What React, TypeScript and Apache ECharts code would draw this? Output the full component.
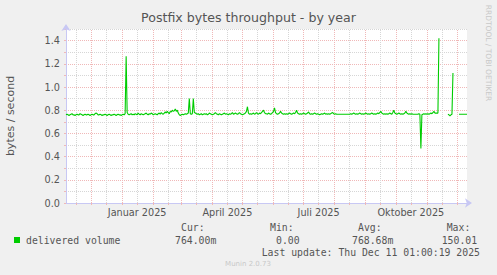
import React, { useEffect, useRef } from "react";
import * as echarts from "echarts";

// ---- data ----
const lastUpdate = Date.UTC(2025, 11, 11, 1, 0, 19);
const DAY = 86400000;
const spanDays = 400;

// daily average of delivered volume (bytes/second), one value per day from the start
const dailyValues: (number | null)[] = [
  0.760, 0.765, 0.760, 0.755, 0.760, 0.765, 0.770, 0.760, 0.760, 0.755, 0.760, 0.765, 0.760, 0.760, 0.770, 0.765, 0.760, 0.755, 0.760, 0.765,
  0.760, 0.760, 0.765, 0.760, 0.755, 0.760, 0.765, 0.760, 0.760, 0.770, 0.775, 0.770, 0.760, 0.760, 0.765, 0.760, 0.755, 0.760, 0.760, 0.765,
  0.760, 0.755, 0.760, 0.765, 0.760, 0.755, 0.760, 0.760, 0.765, 0.760, 0.755, 0.760, 0.765, 0.760, 0.760, 0.755, 0.760, 0.765, 0.760, 0.770,
  1.265, 0.780, 0.765, 0.760, 0.765, 0.770, 0.760, 0.765, 0.760, 0.770, 0.765, 0.760, 0.775, 0.765, 0.760, 0.770, 0.765, 0.760, 0.765, 0.770,
  0.775, 0.765, 0.760, 0.770, 0.765, 0.775, 0.770, 0.760, 0.765, 0.770, 0.765, 0.760, 0.770, 0.775, 0.765, 0.780, 0.770, 0.765, 0.775, 0.785,
  0.775, 0.790, 0.780, 0.770, 0.790, 0.785, 0.800, 0.790, 0.795, 0.810, 0.790, 0.800, 0.775, 0.760, 0.755, 0.760, 0.765, 0.760, 0.765, 0.770,
  0.765, 0.770, 0.775, 0.900, 0.770, 0.765, 0.770, 0.900, 0.780, 0.775, 0.770, 0.765, 0.770, 0.760, 0.765, 0.770, 0.760, 0.765, 0.770, 0.765,
  0.770, 0.760, 0.765, 0.775, 0.770, 0.765, 0.760, 0.765, 0.770, 0.780, 0.770, 0.765, 0.760, 0.770, 0.765, 0.760, 0.765, 0.770, 0.775, 0.765,
  0.770, 0.765, 0.760, 0.770, 0.765, 0.770, 0.780, 0.765, 0.770, 0.775, 0.770, 0.765, 0.770, 0.780, 0.770, 0.765, 0.760, 0.765, 0.770, 0.775,
  0.790, 0.830, 0.775, 0.765, 0.770, 0.765, 0.770, 0.775, 0.765, 0.770, 0.780, 0.770, 0.765, 0.775, 0.770, 0.780, 0.790, 0.800, 0.780, 0.770,
  0.770, 0.765, 0.775, 0.770, 0.765, 0.770, 0.780, 0.790, 0.820, 0.780, 0.770, 0.765, 0.770, 0.775, 0.790, 0.775, 0.770, 0.765, 0.770, 0.765,
  0.770, 0.765, 0.770, 0.775, 0.770, 0.765, 0.770, 0.775, 0.770, 0.780, 0.800, 0.775, 0.770, 0.765, 0.770, 0.765, 0.770, 0.775, 0.770, 0.765,
  0.770, 0.775, 0.785, 0.770, 0.765, 0.770, 0.765, 0.770, 0.775, 0.770, 0.765, 0.770, 0.765, 0.760, 0.765, 0.770, 0.765, 0.770, 0.775, 0.765,
  0.770, 0.765, 0.770, 0.765, 0.770, 0.775, 0.780, 0.770, 0.765, 0.770, 0.765, 0.765, 0.765, 0.765, 0.765, 0.765, 0.765, 0.765, 0.765, 0.765,
  0.765, 0.765, 0.765, 0.765, 0.770, 0.765, 0.770, 0.775, 0.770, 0.765, 0.770, 0.765, 0.770, 0.775, 0.770, 0.765, 0.770, 0.765, 0.770, 0.775,
  0.770, 0.765, 0.770, 0.765, 0.770, 0.775, 0.770, 0.765, 0.770, 0.765, 0.770, 0.775, 0.770, 0.780, 0.790, 0.775, 0.770, 0.765, 0.770, 0.765,
  0.770, 0.765, 0.770, 0.775, 0.770, 0.765, 0.780, 0.800, 0.775, 0.770, 0.765, 0.770, 0.775, 0.770, 0.765, 0.770, 0.765, 0.770, 0.775, 0.790,
  0.775, 0.770, 0.765, 0.770, 0.765, 0.770, 0.765, 0.765, 0.765, 0.765, 0.765, 0.765, 0.770, 0.765, 0.470, 0.760, 0.765, 0.770, 0.765, 0.770,
  0.765, 0.770, 0.765, 0.770, 0.775, 0.770, 0.780, 0.790, 0.775, 0.775, 0.775, 0.775, 1.420, null, null, null, null, null, null, null,
  null, 0.765, 0.760, 0.750, 0.760, 0.765, 1.120, null, null, null, null, null, 0.765, 0.765, 0.765, 0.765, 0.765, 0.765, 0.765, 0.765,
  0.765,
];

const majorGridDates = [
  "2024-12-01", "2025-01-01", "2025-02-01", "2025-03-01", "2025-04-01", "2025-05-01", "2025-06-01",
  "2025-07-01", "2025-08-01", "2025-09-01", "2025-10-01", "2025-11-01", "2025-12-01",
];
const minorGridDates = [
  "2024-11-16", "2024-12-16", "2025-01-16", "2025-02-16", "2025-03-16", "2025-04-16", "2025-05-16",
  "2025-06-16", "2025-07-16", "2025-08-16", "2025-09-16", "2025-10-16", "2025-11-16",
];
const labelDates = ["2025-01-16", "2025-04-16", "2025-07-16", "2025-10-16"];
const monthNames = ["Januar", "Februar", "März", "April", "Mai", "Juni", "Juli", "August", "September", "Oktober", "November", "Dezember"];

const seriesName = "delivered volume";
const legendHeaders = ["Cur:", "Min:", "Avg:", "Max:"];
const legendValues = ["764.00m", "0.00", "768.68m", "150.01"];
const titleText = "Postfix bytes throughput - by year";
const yAxisTitle = "bytes / second";
const lastUpdateText = "Last update: Thu Dec 11 01:00:19 2025";
const watermark = "RRDTOOL / TOBI OETIKER";
const version = "Munin 2.0.73";

const MONO = "DejaVu Sans Mono";
const SANS = "DejaVu Sans";
const TEXT = "#555555";
const RED = "#f0b8b8";
const GREY = "#d6d6d6";
const AXIS = "#c8c8f4";

export default function App() {
  const ref = useRef<HTMLDivElement>(null);
  useEffect(() => {
    if (!ref.current) return;
    const chart = echarts.init(ref.current, null, { renderer: "svg" });
    const start = lastUpdate - spanDays * DAY;
    const data = dailyValues.map((v, i) => [start + i * DAY, v]);
    const majors = majorGridDates.map((d) => Date.parse(d));
    const minors = minorGridDates.map((d) => Date.parse(d));
    const labels = labelDates.map((d) => Date.parse(d));

    const gridLines = [
      ...minors.map((t) => ({ xAxis: t, lineStyle: { color: GREY, type: [1, 1], width: 1 } })),
      ...majors.map((t) => ({ xAxis: t, lineStyle: { color: RED, type: [1, 1], width: 1 } })),
    ];

    const headerX = [181, 270, 358, 446.7];
    const valueX = [175, 276, 352, 441.7];
    const monoText = (text: string, x: number, y: number) => ({
      type: "text",
      x,
      y,
      style: { text, fontFamily: MONO, fontSize: 9.8, fill: TEXT, textAlign: "left", textVerticalAlign: "middle" },
    });

    chart.setOption({
      animation: false,
      backgroundColor: "#f0f0f0",
      grid: { left: 66, right: 30, top: 29, bottom: 72, show: true, backgroundColor: "#ffffff", borderWidth: 0 },
      xAxis: {
        type: "value",
        min: start,
        max: lastUpdate,
        splitLine: { show: false },
        axisLine: {
          show: true,
          lineStyle: { color: AXIS, width: 1 },
          symbol: ["none", "arrow"],
          symbolSize: [7, 7],
          symbolOffset: [0, 5],
        },
        axisTick: { show: true, length: 2, lineStyle: { color: RED }, customValues: [...minors, ...majors] },
        axisLabel: {
          customValues: labels,
          margin: 4,
          color: TEXT,
          fontFamily: SANS,
          fontSize: 9.7,
          formatter: (v: number) => {
            const d = new Date(v);
            return monthNames[d.getUTCMonth()] + " " + d.getUTCFullYear();
          },
        },
      },
      yAxis: {
        type: "value",
        min: 0,
        max: 1.5,
        interval: 0.1,
        axisLine: {
          show: true,
          lineStyle: { color: AXIS, width: 1 },
          symbol: ["none", "arrow"],
          symbolSize: [7, 7],
          symbolOffset: [0, 5],
        },
        axisTick: { show: true, length: 2, lineStyle: { color: RED } },
        splitLine: { show: true, lineStyle: { color: [RED, GREY], type: [1, 1], width: 1 } },
        axisLabel: {
          margin: 6,
          color: TEXT,
          fontFamily: SANS,
          fontSize: 9.7,
          formatter: (v: number) => (Math.round(v * 10) % 2 === 0 ? v.toFixed(1) : ""),
        },
      },
      series: [
        {
          type: "line",
          z: 1,
          data: [[start, null]],
          symbol: "none",
          lineStyle: { opacity: 0 },
          silent: true,
          markLine: { silent: true, symbol: ["none", "none"], label: { show: false }, data: gridLines },
        },
        {
          name: seriesName,
          type: "line",
          z: 5,
          data,
          symbol: "none",
          showSymbol: false,
          connectNulls: false,
          lineStyle: { color: "#00cc00", width: 1.1 },
          itemStyle: { color: "#00cc00" },
        },
      ],
      graphic: [
        {
          type: "text",
          x: 248.5,
          y: 17,
          style: { text: titleText, fontFamily: SANS, fontSize: 12.6, fill: TEXT, textAlign: "center", textVerticalAlign: "middle" },
        },
        {
          type: "text",
          x: 10,
          y: 116,
          rotation: Math.PI / 2,
          style: { text: yAxisTitle, fontFamily: SANS, fontSize: 11, fill: TEXT, textAlign: "center", textVerticalAlign: "middle" },
        },
        {
          type: "text",
          x: 488,
          y: 53,
          rotation: -Math.PI / 2,
          style: { text: watermark, fontFamily: SANS, fontSize: 7.5, fill: "#c8c8c8", textAlign: "center", textVerticalAlign: "middle" },
        },
        { type: "rect", shape: { x: 14, y: 237, width: 6, height: 6 }, style: { fill: "#00cc00" } },
        monoText(seriesName, 26, 240),
        ...legendHeaders.map((h, i) => monoText(h, headerX[i], 227)),
        ...legendValues.map((v, i) => monoText(v, valueX[i], 240)),
        monoText(lastUpdateText, 261.7, 252),
        {
          type: "text",
          x: 248,
          y: 264,
          style: { text: version, fontFamily: SANS, fontSize: 7, fill: "#c8c8c8", textAlign: "center", textVerticalAlign: "middle" },
        },
      ],
    });
    return () => chart.dispose();
  }, []);
  return <div ref={ref} style={{ position: "fixed", left: 0, top: 0, width: 497, height: 275 }} />;
}
